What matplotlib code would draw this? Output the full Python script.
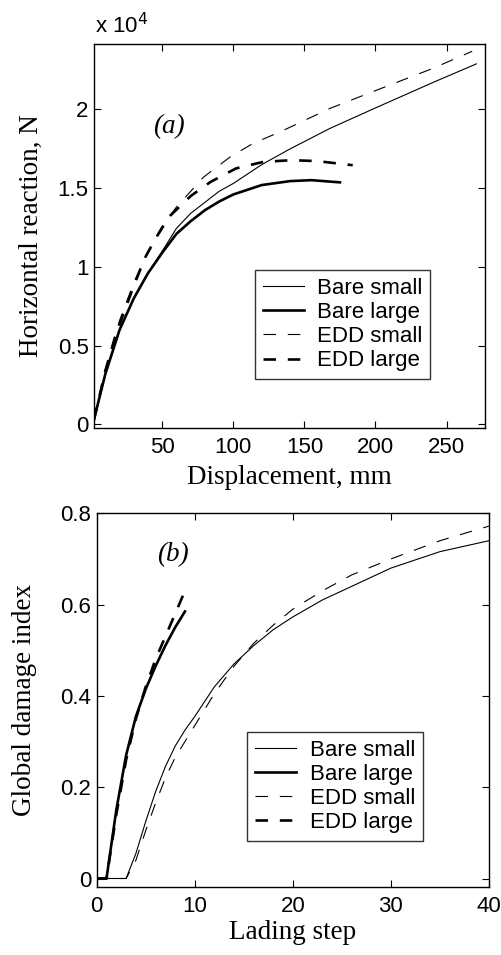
import numpy as np
import matplotlib
matplotlib.use("Agg")
import matplotlib.pyplot as plt

# (a) horizontal reaction (x 10^4 N) vs displacement (mm)
disp_bare_small = [2, 10, 20, 30, 40, 50, 60, 70, 80, 90, 100, 120, 140, 168, 200, 240, 271]
force_bare_small = [0.03, 0.32, 0.60, 0.80, 0.96, 1.10, 1.245, 1.34, 1.41, 1.48, 1.53, 1.65, 1.75, 1.88, 2.01, 2.17, 2.29]

disp_bare_large = [2, 10, 20, 30, 40, 50, 60, 70, 80, 90, 100, 120, 140, 155, 175]
force_bare_large = [0.03, 0.32, 0.60, 0.80, 0.96, 1.09, 1.21, 1.29, 1.36, 1.415, 1.46, 1.52, 1.545, 1.551, 1.537]

disp_edd_small = [2, 10, 20, 30, 40, 50, 60, 70, 79, 98, 114, 133, 168, 200, 240, 268]
force_edd_small = [0.03, 0.35, 0.66, 0.90, 1.10, 1.26, 1.38, 1.48, 1.57, 1.70, 1.785, 1.858, 2.007, 2.12, 2.26, 2.37]

disp_edd_large = [2, 10, 17, 30, 38, 46, 55, 70, 84, 102, 121, 141, 159, 184]
force_edd_large = [0.03, 0.34, 0.56, 0.88, 1.06, 1.19, 1.32, 1.45, 1.54, 1.626, 1.667, 1.678, 1.672, 1.646]

# (b) global damage index vs loading step
step_large = [0, 1, 2, 3, 4, 5, 6, 7, 8, 9]
dmg_bare_large = [0, 0, 0.15, 0.27, 0.355, 0.415, 0.465, 0.51, 0.55, 0.585]
dmg_edd_large = [0, 0, 0.14, 0.26, 0.35, 0.42, 0.48, 0.53, 0.58, 0.63]

step_small = [0, 1, 2, 3, 4, 5, 6, 7, 8, 9, 10, 12, 14, 16, 18, 20, 23, 26, 30, 35, 40]
dmg_bare_small = [0, 0, 0, 0, 0.055, 0.125, 0.19, 0.245, 0.29, 0.325, 0.355, 0.42, 0.47, 0.51,
                  0.545, 0.573, 0.61, 0.64, 0.68, 0.716, 0.74]
dmg_edd_small = [0, 0, 0, 0, 0.04, 0.105, 0.165, 0.22, 0.265, 0.30, 0.335, 0.405, 0.465, 0.515,
                 0.555, 0.59, 0.63, 0.665, 0.70, 0.74, 0.772]

labels = ['Bare small', 'Bare large', 'EDD small', 'EDD large']

plt.rcParams['lines.scale_dashes'] = False
sans = 'Liberation Sans'
serif = 'Liberation Serif'

thin = dict(color='black', lw=0.8)
thick = dict(color='black', lw=1.9)
dash = (0, (9, 8.5))

fig = plt.figure(figsize=(5.01, 9.55), dpi=100)
ax1 = fig.add_axes([0.1876, 0.5518, 0.7804, 0.4021])
ax2 = fig.add_axes([0.1930, 0.0715, 0.7830, 0.3910])


def style_axes(ax):
    ax.tick_params(direction='in', length=5, width=0.8, top=True, right=True, labelsize=16)
    ax.tick_params(axis='x', pad=6.8)
    ax.tick_params(axis='y', pad=3.8)
    for lab in ax.get_xticklabels() + ax.get_yticklabels():
        lab.set_fontfamily(sans)
    for sp in ax.spines.values():
        sp.set_linewidth(1.0)


def add_legend(ax, anchor):
    leg = ax.legend(labels, loc='upper left', bbox_to_anchor=anchor, frameon=True,
                    fancybox=False, prop={'family': sans, 'size': 16},
                    handlelength=1.85, handletextpad=0.6, labelspacing=0.14,
                    borderpad=0.35, borderaxespad=0)
    leg.get_frame().set_edgecolor('black')
    leg.get_frame().set_linewidth(1.0)


# panel (a)
ax1.plot(disp_bare_small, force_bare_small, **thin)
ax1.plot(disp_bare_large, force_bare_large, **thick)
ax1.plot(disp_edd_small, force_edd_small, linestyle=dash, **thin)
ax1.plot(disp_edd_large, force_edd_large, linestyle=dash, **thick)
ax1.set_xlim(2, 277)
ax1.set_ylim(-0.024, 2.416)
ax1.set_xticks([50, 100, 150, 200, 250])
ax1.set_yticks([0, 0.5, 1, 1.5, 2])
ax1.set_yticklabels(['0', '0.5', '1', '1.5', '2'])
style_axes(ax1)
ax1.set_xlabel('Displacement, mm', family=serif, size=19.5, labelpad=5)
ax1.set_ylabel('Horizontal reaction, N', family=serif, size=19.5, labelpad=10)
ax1.text(55, 1.89, '(a)', family=serif, style='italic', size=19.5, ha='center', va='center')
ax1.text(0.003, 1.0286, r'x 10$^{4}$', transform=ax1.transAxes, family=sans, size=16,
         ha='left', va='baseline')
add_legend(ax1, (0.412, 0.411))

# panel (b)
ax2.plot(step_small, dmg_bare_small, **thin)
ax2.plot(step_large, dmg_bare_large, **thick)
ax2.plot(step_small, dmg_edd_small, linestyle=dash, **thin)
ax2.plot(step_large, dmg_edd_large, linestyle=dash, **thick)
ax2.set_xlim(0, 40)
ax2.set_ylim(-0.018, 0.8)
ax2.set_xticks([0, 10, 20, 30, 40])
ax2.set_yticks([0, 0.2, 0.4, 0.6, 0.8])
ax2.set_yticklabels(['0', '0.2', '0.4', '0.6', '0.8'])
style_axes(ax2)
ax2.set_xlabel('Lading step', family=serif, size=19.5, labelpad=2)
ax2.set_ylabel('Global damage index', family=serif, size=19.5, labelpad=17)
ax2.text(7.8, 0.709, '(b)', family=serif, style='italic', size=19.5, ha='center', va='center')
add_legend(ax2, (0.384, 0.415))

fig.savefig('out.png', dpi=100)
